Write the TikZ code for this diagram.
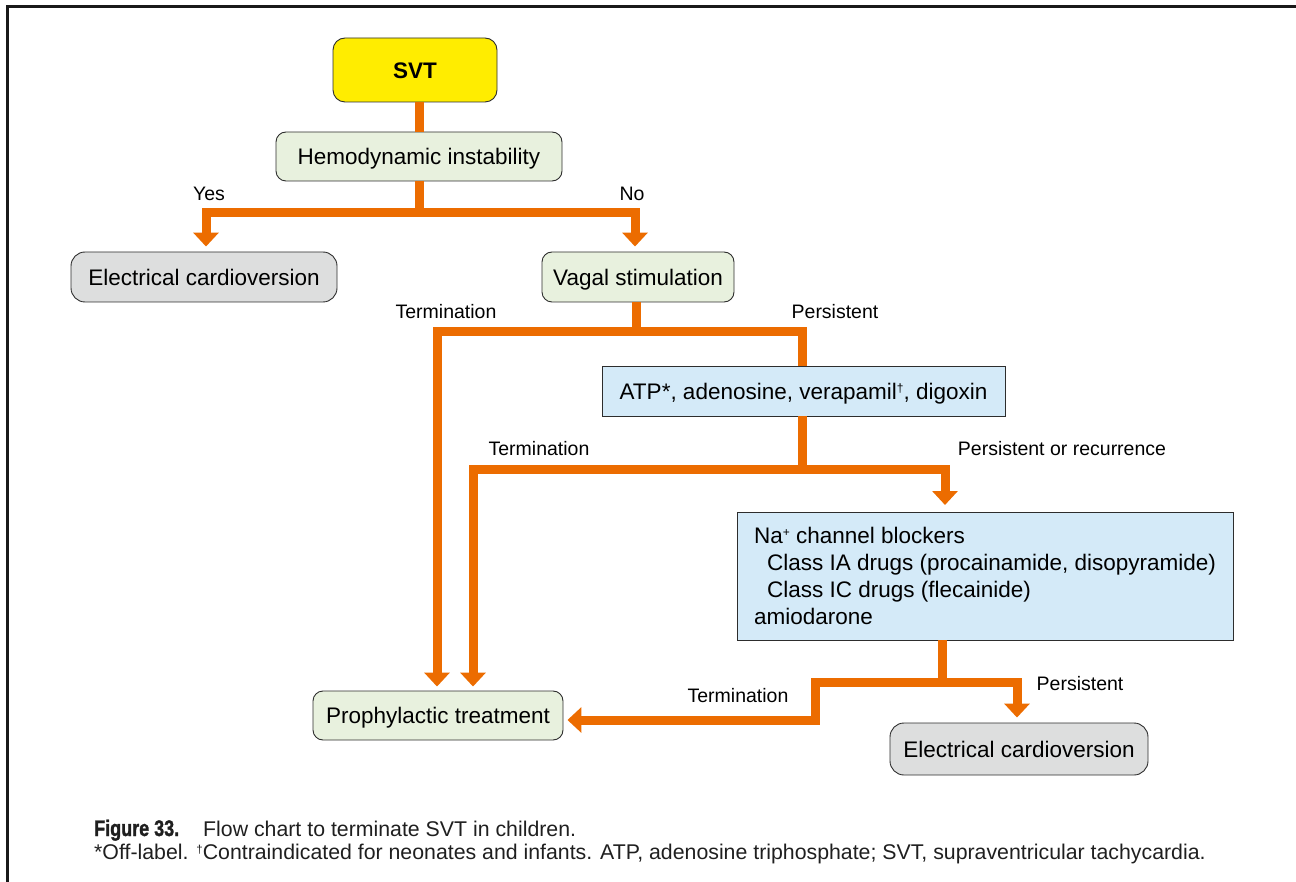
\documentclass[tikz,border=0pt]{standalone}
\usepackage{fontspec}
\usepackage{graphicx}
\setmainfont{Liberation Sans}
\newfontfamily\capheavy[FakeBold=1.6]{Liberation Sans Bold}
\usetikzlibrary{arrows.meta}

\definecolor{flowor}{RGB}{236,108,0}
\definecolor{svtyel}{RGB}{255,237,0}
\definecolor{qgreen}{RGB}{232,241,222}
\definecolor{ecgray}{RGB}{221,222,222}
\definecolor{drugblue}{RGB}{212,234,248}
\definecolor{edgegray}{RGB}{45,45,45}

\tikzset{
  boxbase/.style={draw=edgegray, line width=0.9pt, inner sep=0pt,
    font=\fontsize{22.5}{27.3}\selectfont, text=black},
  oneline/.style={text height=16.2pt, text depth=0pt},
  startbox/.style={boxbase, oneline, fill=svtyel, rounded corners=12pt,
    font=\fontsize{22.5}{27}\selectfont\bfseries},
  askbox/.style={boxbase, oneline, fill=qgreen, rounded corners=10pt},
  shockbox/.style={boxbase, oneline, fill=ecgray, rounded corners=14pt},
  drugbox/.style={boxbase, fill=drugblue},
  flow/.style={draw=flowor, line width=9pt, line join=miter, line cap=butt},
  flowarrow/.style={flow, -{Triangle[width=25pt,length=14pt]}},
  branchlabel/.style={font=\fontsize{19.5}{23}\selectfont, text=black, inner sep=0pt},
  captext/.style={font=\fontsize{21.3}{24}\selectfont, text=black!88, inner sep=0pt, anchor=base west},
}

\begin{document}
\begin{tikzpicture}[x=1pt,y=-1pt]
  \useasboundingbox (0,0) rectangle (1296,882);

  % outer frame, open to the right and bottom
  \draw[line width=3pt, draw=black!90] (7,882) -- (7,7) -- (1296,7);

  % boxes
  \node[startbox, minimum width=164pt, minimum height=64pt] (svt) at (415,70) {SVT};
  \node[askbox, minimum width=286pt, minimum height=49pt] (hemo) at (419,156.5) {Hemodynamic instability};
  \node[shockbox, minimum width=266pt, minimum height=50pt] (ecA) at (204,277) {Electrical cardioversion};
  \node[askbox, minimum width=192pt, minimum height=50pt] (vagal) at (638,277) {Vagal stimulation};
  \node[drugbox, oneline, minimum width=403pt, minimum height=50pt] (atp) at (803.5,391)
    {ATP*, adenosine, verapamil\raisebox{0.55ex}{\fontsize{12}{12}\selectfont †}, digoxin};
  \node[drugbox, minimum width=496pt, minimum height=128pt, align=left] (na) at (985,576)
    {Na\raisebox{0.55ex}{\fontsize{12}{12}\selectfont +} channel blockers\\
     \hspace*{13pt}Class IA drugs (procainamide, disopyramide)\\
     \hspace*{13pt}Class IC drugs (flecainide)\\
     amiodarone};
  \node[askbox, minimum width=250pt, minimum height=49pt] (pro) at (438,715.5) {Prophylactic treatment};
  \node[shockbox, minimum width=258pt, minimum height=52pt] (ecB) at (1019,749) {Electrical cardioversion};

  % branch points
  \coordinate (jHemo) at (419,213);
  \coordinate (jVagal) at (636,332);
  \coordinate (jAtp) at (802,469);
  \coordinate (jNa) at (942,682);
  \coordinate (stepNa) at (815,682);
  \coordinate (stepNaLow) at (815,720);
  \coordinate (proLeft) at ([xshift=-1pt]pro.north);
  \coordinate (proRight) at ([xshift=35pt]pro.north);
  \coordinate (naIn) at (945,510);

  % connectors
  \draw[flow] (svt.south -| hemo.north) -- (hemo.north);
  \draw[flow] (hemo.south) -- (jHemo);
  \draw[flowarrow, shorten >=5pt] (jHemo) -| ([xshift=2pt]ecA.north);
  \draw[flowarrow, shorten >=5pt] (jHemo) -| ([xshift=-3pt]vagal.north);

  \draw[flow] ([xshift=-2pt]vagal.south) -- (jVagal);
  \draw[flowarrow, shorten >=4pt] (jVagal) -| (proLeft);
  \draw[flow] (jVagal) -| ([xshift=-1.5pt]atp.north);

  \draw[flow] (atp.south -| jAtp) -- (jAtp);
  \draw[flowarrow, shorten >=4pt] (jAtp) -| (proRight);
  \draw[flowarrow, shorten >=5pt] (jAtp) -| (naIn);

  \draw[flow] (na.south -| jNa) -- (jNa);
  \draw[flowarrow, shorten >=5pt] (jNa) -| ([xshift=-2pt]ecB.north);
  \draw[flowarrow, shorten >=4pt] (jNa) -- (stepNa) -- (stepNaLow) -- ([yshift=-4.5pt]pro.east);

  % branch labels
  \node[branchlabel] (lYes) at (209,194) {Yes};
  \node[branchlabel] (lNo) at (632,194) {No};
  \node[branchlabel] (lTermA) at (446,312) {Termination};
  \node[branchlabel] (lPersA) at (835,312) {Persistent};
  \node[branchlabel] (lTermB) at (539,449) {Termination};
  \node[branchlabel] (lPersB) at (1062,449) {Persistent or recurrence};
  \node[branchlabel] (lTermC) at (738,696) {Termination};
  \node[branchlabel] (lPersC) at (1080,684) {Persistent};

  % caption
  \node[captext] (capHead) at (94,836)
    {\scalebox{0.8}[1]{\fontsize{22.5}{24}\capheavy Figure 33.}};
  \node[captext] (capTitle) at (203,836) {Flow chart to terminate SVT in children.};
  \node[captext] (capNote) at (94,859)
    {*Off-label. \raisebox{0.5ex}{\fontsize{11.5}{11.5}\selectfont †}Contraindicated for neonates and infants. ATP, adenosine triphosphate; SVT, supraventricular tachycardia.};
\end{tikzpicture}
\end{document}
